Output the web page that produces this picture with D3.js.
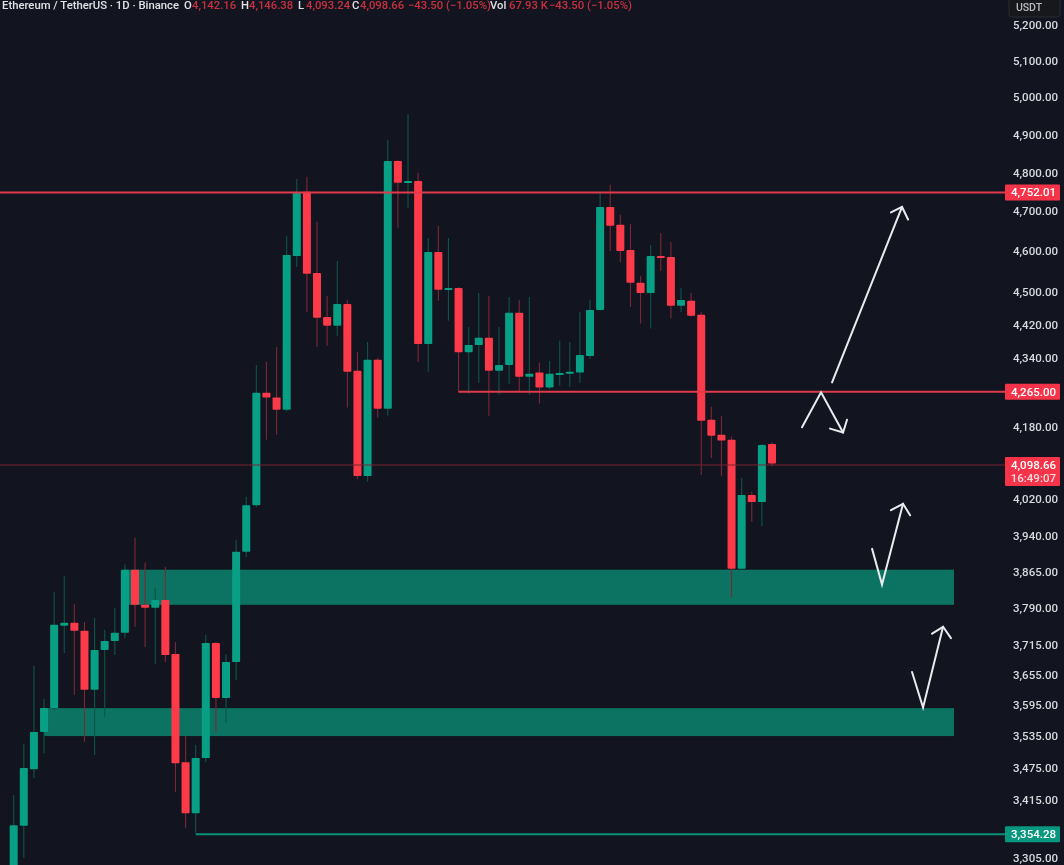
<!DOCTYPE html>
<html>
<head>
<meta charset="utf-8">
<script src="https://cdn.jsdelivr.net/npm/d3@7"></script>
<style>
html,body{margin:0;padding:0;background:#12151f;overflow:hidden;}
svg{display:block;filter:blur(0.4px);}
text{font-family:Roboto,"Noto Sans",sans-serif;font-weight:500;}
.axis text{fill:#d8dae0;font-size:11.5px;}
</style>
</head>
<body>
<div id="chart"></div>
<script>
// daily candles, oldest first
var opens = [3270,3367,3472,3543,3589,3753,3759,3743,3625,3704,3722,3739,3869,3796,3790,3806,3696,3485,3390,3493,3718,3609,3680,3907,4007,4259,4248,4220,4587,4750,4545,4438,4417,4469,4310,4071,4336,4222,4830,4776,4778,4373,4597,4504,4508,4354,4371,4388,4310,4324,4448,4296,4306,4271,4303,4303,4306,4345,4455,4711,4666,4602,4521,4496,4587,4585,4465,4477,4443,4197,4163,4152,3871,4029,4014,4142.16];
var highs = [3423,3520,3672,3607,3823,3856,3798,3761,3769,3745,3790,3880,3937,3884,3831,3875,3720,3535,3518,3735,3720,3696,3932,4025,4324,4331,4366,4637,4783,4789,4673,4489,4575,4479,4354,4378,4340,4886,4832,4955,4799,4632,4663,4632,4510,4414,4496,4489,4414,4486,4479,4486,4329,4333,4381,4378,4450,4479,4747,4768,4691,4668,4538,4615,4645,4622,4508,4496,4450,4227,4206,4159,4067,4036,4142,4146.38];
var lows = [3240,3309,3455,3502,3585,3698,3615,3524,3499,3572,3694,3728,3751,3710,3676,3680,3429,3363,3354.28,3485,3543,3560,3644,3896,4003,4152,4163,4216,4560,4450,4366,4369,4393,4225,4064,4058,4202,4206,4658,4709,4331,4308,4477,4429,4261,4257,4282,4206,4255,4280,4261,4255,4234,4268,4275,4273,4282,4338,4453,4600,4572,4462,4422,4410,4550,4434,4450,4439,4073,4111,4071,3812,3869,3971,3962,4093.24];
var closes = [3368,3474,3543,3589,3755,3759,3743,3625,3704,3722,3739,3869,3796,3790,3806,3694,3483,3390,3493,3718,3609,3680,3907,4007,4259,4248,4220,4590,4747,4543,4436,4417,4469,4308,4071,4336,4222,4830,4773,4778,4373,4597,4504,4508,4354,4371,4388,4310,4324,4448,4296,4303,4271,4303,4305,4308,4347,4455,4711,4663,4600,4521,4496,4587,4582,4465,4479,4441,4195,4161,4150,3871,4029,4014,4140,4098.66];

var priceTicks = [5200,5100,5000,4900,4800,4700,4600,4500,4420,4340,4180,4020,3940,3865,3790,3715,3655,3595,3535,3475,3415,3305];

// support zones: first bar, last bar, top price, bottom price
var zoneStart = [11,3];
var zoneEnd = [93,93];
var zoneTop = [3869,3589];
var zoneBottom = [3796,3535];

// hand drawn arrows as [bar, price] anchors
var arrowShafts = [
	[[80.94,4283],[87.86,4711]],
	[[77.97,4180],[79.85,4260],[82.03,4168]],
	[[84.9,3913],[85.88,3838],[87.96,4010]],
	[[88.85,3660],[89.94,3590],[91.92,3751]]
];
var arrowHeads = [
	[[86.77,4697],[87.86,4711],[88.46,4679]],
	[[80.74,4177],[82.03,4168],[82.42,4197]],
	[[86.77,3996],[87.96,4010],[88.66,3985]],
	[[90.83,3737],[91.92,3751],[92.7,3728]]
];

var legendLabels = ["O","H","L","C"];
var legendValues = ["4,142.16","4,146.38","4,093.24","4,098.66"];

var width = 1064, height = 865;
var green = "#07a084", red = "#fd3a49", greenWick = "#0c554b", redWick = "#7d2736";
var zoneColor = "#0c7362", axisLeft = 1005;
var levelOffset = 1.5; // the picture's level lines sit a touch under the fitted scale

var svg = d3.select("#chart").append("svg")
	.attr("width",width)
	.attr("height",height)
	.style("background","#12151f");

var x = d3.scaleLinear().domain([0,75]).range([13.7,772]);
var y = d3.scaleLog().domain([3305,5200]).range([860,25]);
var bodyWidth = 8;

var plot = svg.append("g");

// zones sit under the candles
plot.selectAll("rect.zone")
	.data(zoneStart)
	.enter()
	.append("rect")
	.attr("class","zone")
	.attr("x",function(d){return x(d)})
	.attr("y",function(d,i){return y(zoneTop[i])})
	.attr("width",function(d,i){return x(zoneEnd[i])-x(d)})
	.attr("height",function(d,i){return y(zoneBottom[i])-y(zoneTop[i])})
	.style("fill",zoneColor);

var candles = plot.selectAll("g.candle")
	.data(opens)
	.enter()
	.append("g")
	.attr("class","candle")
	.each(function(d,i){
		var up = closes[i] >= opens[i];
		d3.select(this).append("line")
			.attr("x1",x(i))
			.attr("x2",x(i))
			.attr("y1",y(highs[i]))
			.attr("y2",y(lows[i]))
			.style("stroke",up ? greenWick : redWick)
			.style("stroke-width","1.1px");
		d3.select(this).append("rect")
			.attr("x",x(i)-bodyWidth/2)
			.attr("y",y(Math.max(opens[i],closes[i])))
			.attr("width",bodyWidth)
			.attr("height",Math.max(2,Math.abs(y(opens[i])-y(closes[i]))))
			.attr("rx",0.8)
			.style("fill",up ? green : red);
	});

// horizontal levels
var lastPrice = closes[closes.length-1];
var addLevel = function(price,fromBar,color,strokeWidth){
	plot.append("line")
		.attr("x1",fromBar === null ? 0 : x(fromBar))
		.attr("x2",axisLeft)
		.attr("y1",y(price)+levelOffset)
		.attr("y2",y(price)+levelOffset)
		.style("stroke",color)
		.style("stroke-width",strokeWidth+"px");
}
addLevel(4752.01,null,"#e03a4c",2);
addLevel(4265,44,"#e03a4c",2);
addLevel(lastPrice,null,"#7a2232",1);
addLevel(3354.28,18,"#0b8f79",2);

// arrows
var arrowLine = d3.line().x(function(d){return x(d[0])}).y(function(d){return y(d[1])});
plot.selectAll("path.arrow")
	.data(arrowShafts.concat(arrowHeads))
	.enter()
	.append("path")
	.attr("class","arrow")
	.attr("d",arrowLine)
	.style("fill","none")
	.style("stroke","#e9ebee")
	.style("stroke-width","2px")
	.style("stroke-linecap","round")
	.style("stroke-linejoin","miter");

// price axis
var axis = svg.append("g")
	.attr("class","axis")
	.attr("transform","translate(1013,0)")
	.call(d3.axisRight(y).tickValues(priceTicks).tickFormat(d3.format(",.2f")).tickSize(0).tickPadding(0));
axis.select(".domain").remove();
axis.selectAll("text").style("font-family","Roboto,sans-serif");
// lowest label would run off the window
axis.selectAll(".tick").filter(function(d){return d == 3305}).select("text").attr("y",-2);

// tags on the price axis
var addTag = function(price,color,sub){
	var h = sub ? 29 : 16;
	var top = y(price)+levelOffset-8;
	svg.append("rect")
		.attr("x",axisLeft)
		.attr("y",top)
		.attr("width",55)
		.attr("height",h)
		.attr("rx",1)
		.style("fill",color);
	svg.append("text")
		.attr("x",1056)
		.attr("y",top+12)
		.attr("text-anchor","end")
		.style("font-size","11.5px")
		.style("fill","#ffffff")
		.text(d3.format(",.2f")(price));
	if(sub){
		svg.append("text")
			.attr("x",1056)
			.attr("y",top+25)
			.attr("text-anchor","end")
			.style("font-size","11.5px")
			.style("fill","#ffd9dc")
			.text(sub);
	}
}
addTag(4752.01,"#f5344a");
addTag(4265,"#f5344a");
addTag(lastPrice,"#f5344a","16:49:07");
addTag(3354.28,"#07967e");

// currency button, it hides the top of the 5,200 label
svg.append("rect")
	.attr("x",1009)
	.attr("y",17)
	.attr("width",51)
	.attr("height",4)
	.style("fill","#12151f");
svg.append("rect")
	.attr("x",1009)
	.attr("y",-3)
	.attr("width",51)
	.attr("height",20)
	.attr("rx",3)
	.style("fill","#17181c")
	.style("stroke","#2a2c32");
svg.append("text")
	.attr("x",1029)
	.attr("y",11)
	.attr("text-anchor","middle")
	.style("font-size","10.5px")
	.style("fill","#b8bbc2")
	.text("USDT");

// header legend
var legend = svg.append("g").style("font-size","11.3px");
var addLegend = function(px,txt,color){
	legend.append("text")
		.attr("x",px)
		.attr("y",9)
		.style("fill",color)
		.text(txt);
}
var legendRed = "#c8303f", legendWhite = "#dfe1e6";
addLegend(2,"Ethereum / TetherUS · 1D · Binance",legendWhite);
[184,241,298,352].forEach(function(px,i){
	addLegend(px,legendLabels[i],legendWhite);
	addLegend(px+8,legendValues[i],legendRed);
});
addLegend(408,"−43.50 (−1.05%)",legendRed);
addLegend(490,"Vol",legendWhite);
addLegend(509,"67.93 K",legendRed);
addLegend(549,"−43.50 (−1.05%)",legendRed);
</script>
</body>
</html>
